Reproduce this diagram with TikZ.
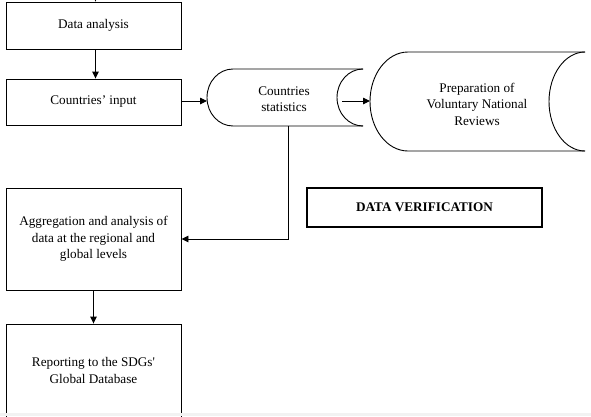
\documentclass[tikz,border=0pt]{standalone}
\usepackage{fontspec}
\setmainfont{Liberation Serif}
\usetikzlibrary{arrows.meta}

\begin{document}
\begin{tikzpicture}[x=1pt,y=-1pt,line width=0.9pt,
  font=\fontsize{13.2}{16.5}\selectfont,
  stepbox/.style={draw, rectangle, minimum width=175pt, align=center, inner sep=0pt,
    execute at begin node={\vspace*{4pt}}},
  textonly/.style={align=center, inner sep=0pt},
  arr/.style={-{Triangle[length=7pt,width=6.5pt]}}]
\useasboundingbox (0,0) rectangle (591,416);

\node[stepbox, minimum height=47pt] (da) at (93.5,25.5) {Data analysis};
\node[stepbox, minimum height=46pt] (ci) at (93.5,102) {Countries’ input};
\node[stepbox, minimum height=102pt] (ag) at (93.5,239) {Aggregation and analysis of\\data at the regional and\\global levels};
\node[stepbox, minimum height=93pt] (rp) at (93.5,370.5) {Reporting to the SDGs\textquotesingle\\Global Database};
\node[draw, line width=1.4pt, minimum width=235pt, minimum height=39pt] (dv) at (424.5,207.5) {\bfseries DATA VERIFICATION};

% stored data shapes
\node[textonly] (cs) at (284,99) {Countries\\statistics};
\node[textonly] (vnr) at (477,104) {Preparation of\\Voluntary National\\Reviews};
\draw (363,69) -- (233,69) arc[start angle=270, end angle=90, x radius=26, y radius=28.5] -- (363,126);
\draw (363,69) arc[start angle=270, end angle=90, x radius=26, y radius=28.5];
\draw (585,52) -- (408,52) arc[start angle=270, end angle=90, x radius=38, y radius=49.5] -- (585,151);
\draw (585,52) arc[start angle=270, end angle=90, x radius=36, y radius=49.5];

\coordinate (in) at (95.5,-10);
\coordinate (csin) at (207,101);
\coordinate (csout) at (342,101);
\coordinate (vnrin) at (370,101);
\coordinate (csbot) at (288,126);
\coordinate (turn) at (288,239);

\draw[arr] (in) -- ([xshift=2pt]da.north);
\draw[arr] ([xshift=2pt]da.south) -- ([xshift=2pt]ci.north);
\draw[arr] (ci.east |- csin) -- (csin);
\draw[arr] (csout) -- (vnrin);
\draw[arr] (csbot) -- (turn) -- (ag.east |- turn);
\draw[arr] (ag.south) -- (rp.north);

\fill[gray!10] (0,413) rectangle (591,416);
\end{tikzpicture}
\end{document}
